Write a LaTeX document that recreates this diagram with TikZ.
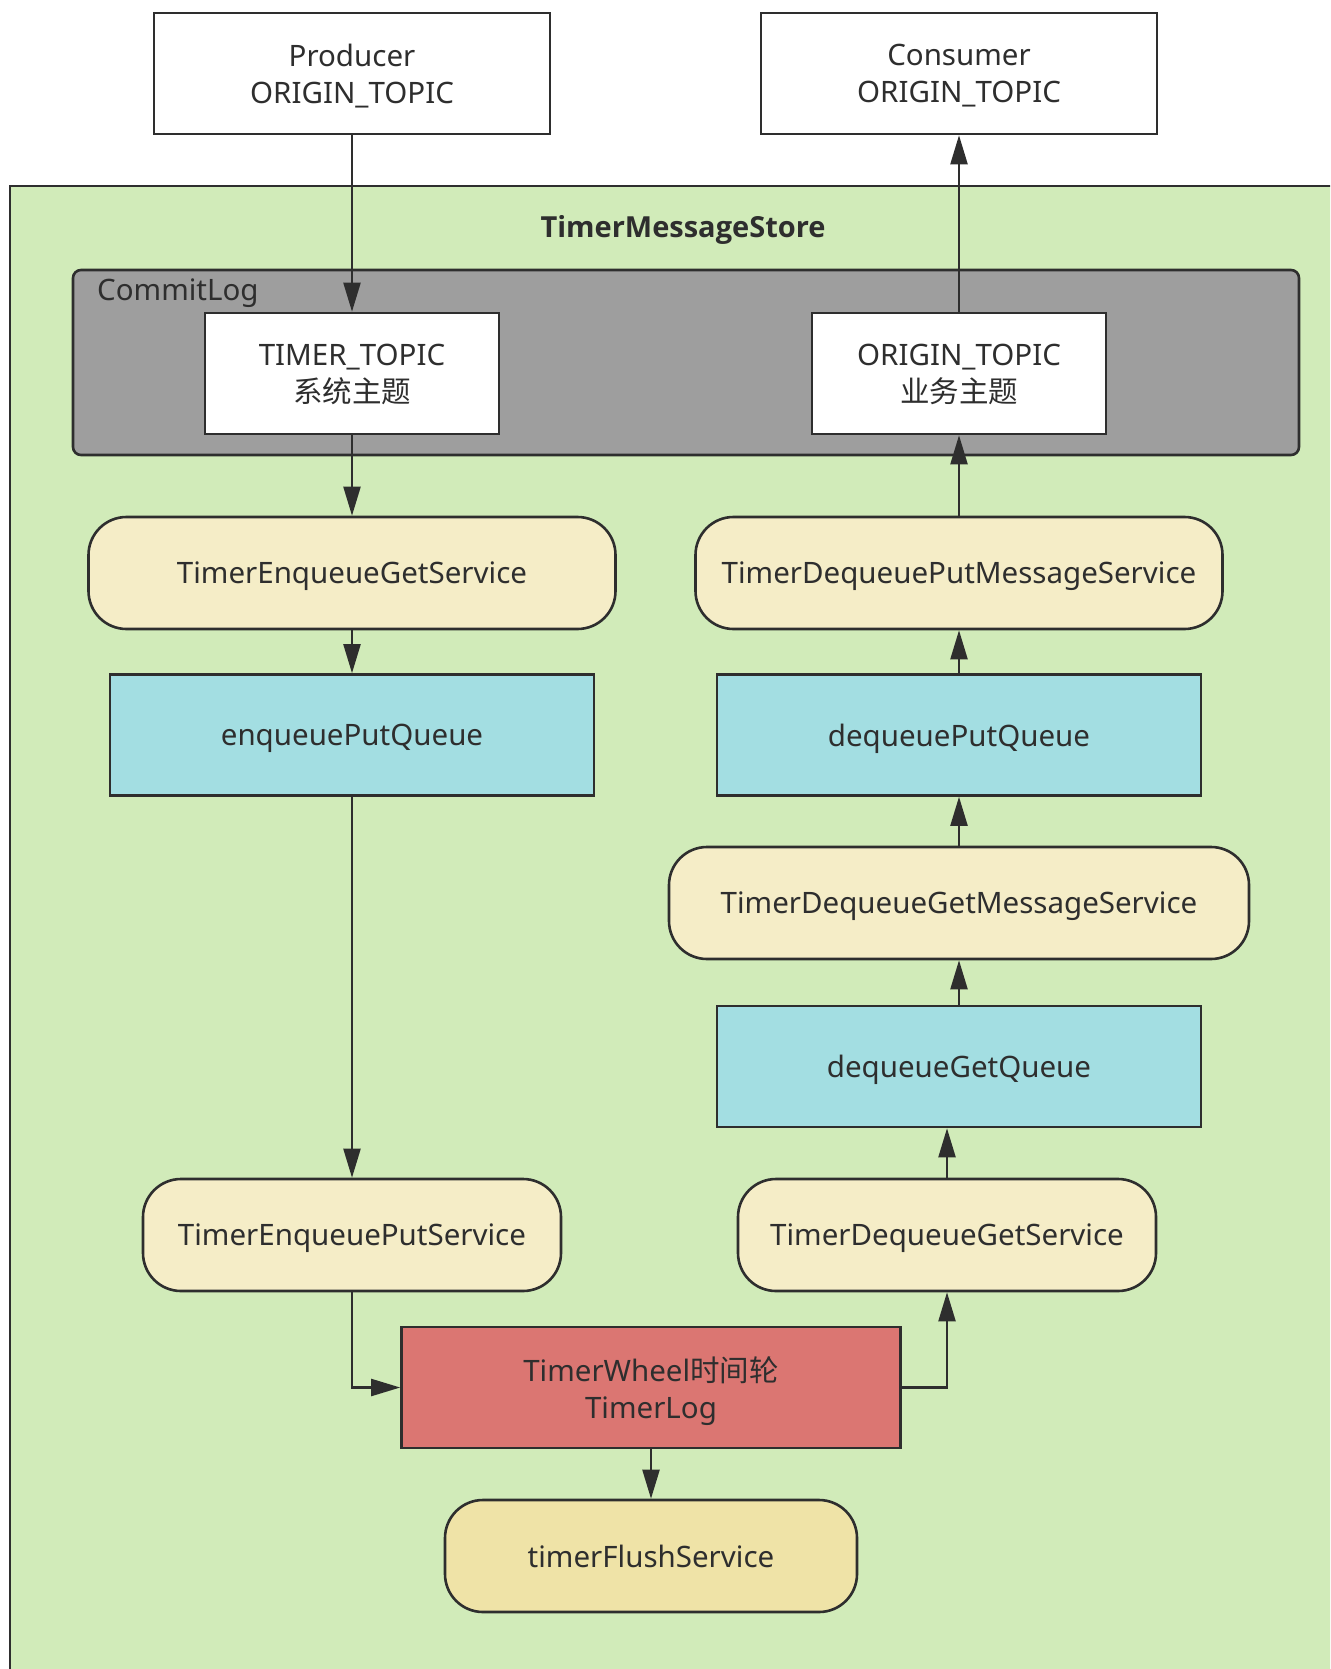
\documentclass[tikz,border=0pt]{standalone}
\usepackage{fontspec}
\setmainfont{Noto Sans}
\newfontfamily\cjk{Noto Sans CJK SC}
\newfontfamily\titlefont{Open Sans}
\usetikzlibrary{arrows.meta}

\definecolor{inkc}{HTML}{2E2E2E}
\definecolor{storebg}{HTML}{D1EBB9}
\definecolor{loggray}{HTML}{9E9E9E}
\definecolor{svcfill}{HTML}{F5EDC7}
\definecolor{flushfill}{HTML}{EFE3A7}
\definecolor{queuefill}{HTML}{A3DEE2}
\definecolor{wheelfill}{HTML}{DB7672}

\begin{document}
\begin{tikzpicture}[x=1pt,y=-1pt,
  every node/.style={text=inkc, font=\fontsize{29.5}{37}\selectfont, align=center, inner sep=0pt, text depth=0pt},
  outline/.style={draw=inkc, line width=2.6pt},
  topicbox/.style={outline, fill=white, minimum height=121pt},
  svc/.style={outline, fill=svcfill, rounded corners=38pt, minimum height=112pt},
  queue/.style={outline, fill=queuefill, minimum width=484pt, minimum height=121pt},
  arr/.style={draw=inkc, line width=2.2pt, -{Triangle[length=29pt,width=17pt]}},
]
\useasboundingbox (0,0) rectangle (1330,1669);
\clip (0,0) rectangle (1330,1669);

% TimerMessageStore container (runs off the right and bottom edges)
\fill[storebg] (10,186) rectangle (1400,1720);
\draw[inkc, line width=2.4pt] (10,1720) -- (10,186) -- (1400,186);
\node[font=\titlefont\fontsize{29}{34}\selectfont\bfseries] (storetitle) at (683,226) {TimerMessageStore};

% CommitLog container
\node[outline, fill=loggray, rounded corners=8pt, minimum width=1226pt, minimum height=185pt] (commitlog) at (686,362.5) {};
\node[anchor=west] (commitlabel) at (97,290) {CommitLog};

% producer / consumer
\node[topicbox, minimum width=396pt] (producer) at (352,73.5) {Producer\\ORIGIN\_TOPIC};
\node[topicbox, minimum width=396pt] (consumer) at (959,73.5) {Consumer\\ORIGIN\_TOPIC};

% topics inside the commit log
\node[topicbox, minimum width=294pt] (ttopic) at (352,373.5) {TIMER\_TOPIC\\{\cjk 系统主题}};
\node[topicbox, minimum width=294pt] (otopic) at (959,373.5) {ORIGIN\_TOPIC\\{\cjk 业务主题}};

% enqueue side
\node[svc, minimum width=527pt] (tegs) at (352,573) {TimerEnqueueGetService};
\node[queue] (epq) at (352,735) {enqueuePutQueue};
\node[svc, minimum width=418pt] (teps) at (352,1235) {TimerEnqueuePutService};

% dequeue side
\node[svc, minimum width=527pt] (tdpms) at (959,573) {TimerDequeuePutMessageService};
\node[queue] (dpq) at (959,735) {dequeuePutQueue};
\node[svc, minimum width=580pt] (tdgms) at (959,903) {TimerDequeueGetMessageService};
\node[queue] (dgq) at (959,1066.5) {dequeueGetQueue};
\node[svc, minimum width=418pt] (tdgs) at (947,1235) {TimerDequeueGetService};

% timer wheel and flush
\node[outline, fill=wheelfill, minimum width=499pt, minimum height=121pt] (wheel) at (651,1387.5) {TimerWheel{\cjk 时间轮}\\TimerLog};
\node[svc, fill=flushfill, minimum width=412pt] (flush) at (651,1556) {timerFlushService};

% connectors
\draw[arr] (producer.south) -- (ttopic.north);
\draw[arr] (ttopic.south) -- (tegs.north);
\draw[arr] (tegs.south) -- (epq.north);
\draw[arr] (epq.south) -- (teps.north);
\draw[arr] (teps.south) |- (wheel.west);
\draw[arr] (wheel.east) -| (tdgs.south);
\draw[arr] (tdgs.north) -- (tdgs.north |- dgq.south);
\draw[arr] (dgq.north) -- (tdgms.south);
\draw[arr] (tdgms.north) -- (dpq.south);
\draw[arr] (dpq.north) -- (tdpms.south);
\draw[arr] (tdpms.north) -- (otopic.south);
\draw[arr] (otopic.north) -- (consumer.south);
\draw[arr] (wheel.south) -- (flush.north);
\end{tikzpicture}
\end{document}
